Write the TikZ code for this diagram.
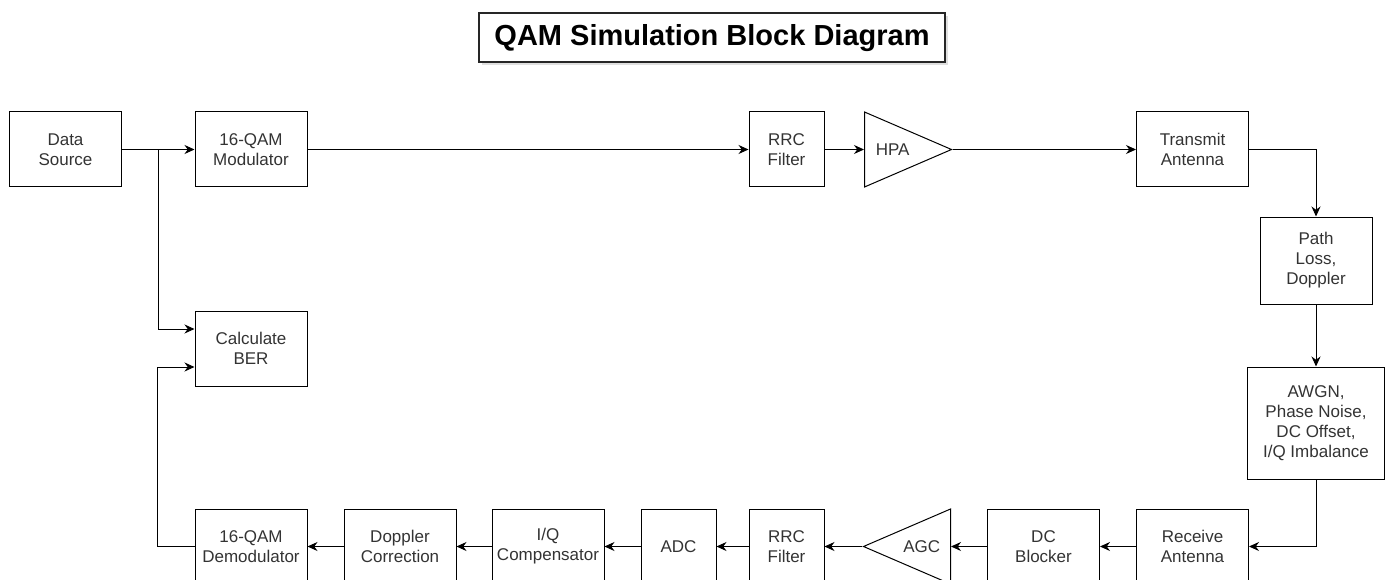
\documentclass[tikz,border=0pt]{standalone}
\usepackage{xcolor}
\usepackage{fontspec}
\setmainfont{Liberation Sans}
\usetikzlibrary{arrows.meta,shapes.geometric,shadows}

\tikzset{
  blk/.style={draw, line width=1pt, text=black!80, minimum width=112pt, minimum height=75pt,
    align=center, inner sep=0pt, font=\fontsize{17}{20}\selectfont},
  amp/.style={draw, line width=1pt, text=black!80, isosceles triangle, isosceles triangle stretches,
    minimum width=75pt, minimum height=87pt, inner sep=0pt, font=\fontsize{17}{20}\selectfont},
  arr/.style={line width=1pt, -{Stealth[length=10pt,width=9pt]}},
  ttl/.style={draw=black!85, line width=2pt, fill=white, minimum width=466pt, minimum height=49pt,
    font=\fontsize{29}{32}\selectfont\bfseries,
    drop shadow={shadow xshift=3pt, shadow yshift=-3pt, fill=black!25}}
}

\begin{document}
\begin{tikzpicture}[x=1pt, y=-1pt]
      % \draw[help lines, gray!50, very thin] (0,0) grid[step=50pt] (1386,580);
      \useasboundingbox (0,0) rectangle (1386,580);

      \node[ttl] (title) at (712,38) {QAM Simulation Block Diagram};

      % transmit row
      \node[blk] (src) at (65.5,149.5) {Data\\Source};
      \node[blk] (mod) at (251,149.5) {16-QAM\\Modulator};
      \node[blk, minimum width=75pt] (rrctx) at (786.5,149.5) {RRC\\Filter};
      \node[amp, anchor=lower side] (hpa) at (864,149.5) {HPA};
      \node[blk] (txant) at (1192.5,149.5) {Transmit\\Antenna};

      % channel
      \node[blk, minimum height=87pt] (ploss) at (1316,260.5) {Path\\Loss,\\Doppler};
      \node[blk, minimum width=137pt, minimum height=112pt] (awgn) at (1316,423) {AWGN,\\Phase Noise,\\DC Offset,\\I/Q Imbalance};

      % receive row
      \node[blk] (rxant) at (1192.5,546.5) {Receive\\Antenna};
      \node[blk] (dcblk) at (1043.5,546.5) {DC\\Blocker};
      \node[amp, shape border rotate=180, anchor=lower side] (agc) at (951,546.5) {AGC};
      \node[blk, minimum width=75pt] (rrcrx) at (786.5,546.5) {RRC\\Filter};
      \node[blk, minimum width=75pt] (adc) at (678.5,546.5) {ADC};
      \node[blk] (iqc) at (548,546.5) {I/Q\\Compensator};
      \node[blk] (dopc) at (400,546.5) {Doppler\\Correction};
      \node[blk] (demod) at (251,546.5) {16-QAM\\Demodulator};

      \node[blk] (ber) at (251,348.5) {Calculate\\BER};

      \coordinate (tap) at (158,149.5);

      \draw[arr] (src) -- (mod);
      \draw[arr] (tap) |- ([yshift=19.5pt]ber.west);
      \draw[arr] (mod) -- (rrctx);
      \draw[arr] (rrctx) -- (hpa.lower side);
      \draw[arr] (hpa.apex) -- (txant);
      \draw[arr] (txant.east) -| (ploss.north);
      \draw[arr] (ploss) -- (awgn);
      \draw[arr] (awgn.south) |- (rxant.east);
      \draw[arr] (rxant) -- (dcblk);
      \draw[arr] (dcblk) -- (agc.lower side);
      \draw[arr] (agc.apex) -- (rrcrx);
      \draw[arr] (rrcrx) -- (adc);
      \draw[arr] (adc) -- (iqc);
      \draw[arr] (iqc) -- (dopc);
      \draw[arr] (dopc) -- (demod);
      \draw[arr] (demod.west) -- ++(-37,0) |- ([yshift=-18.5pt]ber.west);
    \end{tikzpicture}
\end{document}
